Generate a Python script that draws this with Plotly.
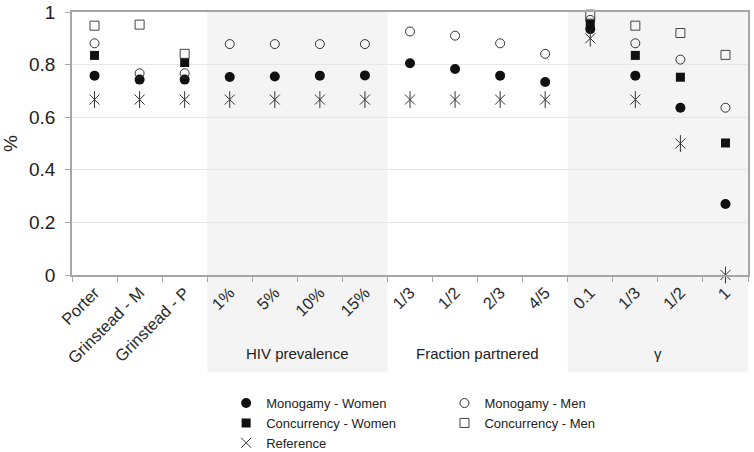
import plotly.graph_objects as go

categories = ["Porter", "Grinstead - M", "Grinstead - P",
              "1%", "5%", "10%", "15%",
              "1/3", "1/2", "2/3", "4/5",
              "0.1", "1/3", "1/2", "1"]
group_labels = ["HIV prevalence", "Fraction partnered", "\u03b3"]

monogamy_women = [0.758, 0.743, 0.743, 0.753, 0.755, 0.758, 0.759,
                  0.805, 0.783, 0.758, 0.734, 0.935, 0.758, 0.636, 0.27]
monogamy_men = [0.881, 0.767, 0.767, 0.878, 0.878, 0.878, 0.878,
                0.926, 0.910, 0.881, 0.841, 0.970, 0.881, 0.819, 0.636]
concurrency_women = [0.835, None, 0.808, None, None, None, None,
                     None, None, None, None, 0.955, 0.835, 0.752, 0.502]
concurrency_men = [0.948, 0.952, 0.841, None, None, None, None,
                   None, None, None, None, 0.990, 0.948, 0.920, 0.837]
reference = [0.667, 0.667, 0.667, 0.667, 0.667, 0.667, 0.667,
             0.667, 0.667, 0.667, 0.667, 0.900, 0.667, 0.500, 0.0]

x = list(range(len(categories)))
FONT = "Arial, Liberation Sans, sans-serif"

fig = go.Figure()
fig.add_trace(go.Scatter(x=x, y=monogamy_women, mode="markers", name="Monogamy - Women",
                         legend="legend",
                         marker=dict(symbol="circle", size=10, color="#111111"), cliponaxis=False))
fig.add_trace(go.Scatter(x=x, y=monogamy_men, mode="markers", name="Monogamy - Men",
                         legend="legend2",
                         marker=dict(symbol="circle-open", size=9, color="#333333", line=dict(width=1)),
                         cliponaxis=False))
fig.add_trace(go.Scatter(x=x, y=concurrency_women, mode="markers", name="Concurrency - Women",
                         legend="legend",
                         marker=dict(symbol="square", size=9, color="#111111"), cliponaxis=False))
fig.add_trace(go.Scatter(x=x, y=concurrency_men, mode="markers", name="Concurrency - Men",
                         legend="legend2",
                         marker=dict(symbol="square-open", size=9, color="#444444", line=dict(width=1)),
                         cliponaxis=False))
fig.add_trace(go.Scatter(x=x, y=reference, mode="markers", name="Reference", legendgroup="ref",
                         legend="legend",
                         marker=dict(symbol="x-thin-open", size=10, color="#333333", line=dict(width=1)),
                         cliponaxis=False))
fig.add_trace(go.Scatter(x=x, y=reference, mode="markers", name="Reference", legendgroup="ref",
                         legend="legend", showlegend=False,
                         marker=dict(symbol="line-ns-open", size=12, color="#333333", line=dict(width=1)),
                         cliponaxis=False))

# shaded groups
for x0, x1 in [(2.5, 6.5), (10.5, 14.5)]:
    fig.add_shape(type="rect", xref="x", yref="paper", x0=x0, x1=x1, y0=-0.37, y1=1,
                  fillcolor="#f4f4f4", line=dict(width=0), layer="below")

for gx, label in zip([4.5, 8.5, 12.5], group_labels):
    fig.add_annotation(x=gx, y=-0.297, xref="x", yref="paper", text=label, showarrow=False,
                       font=dict(family=FONT, size=15, color="#222222"), yanchor="middle")

legend_common = dict(orientation="v", yanchor="top", y=-0.43, xanchor="left",
                     font=dict(family=FONT, size=13, color="#222222"),
                     itemwidth=30, tracegroupgap=0, bgcolor="rgba(0,0,0,0)")

fig.update_layout(
    width=754, height=452,
    margin=dict(l=72, r=6, t=12, b=177, autoexpand=False),
    paper_bgcolor="white", plot_bgcolor="rgba(0,0,0,0)",
    font=dict(family=FONT, color="#222222"),
    showlegend=True,
    legend=dict(x=0.228, **legend_common),
    legend2=dict(x=0.551, **legend_common),
)
fig.update_xaxes(range=[-0.5, 14.5], tickmode="array", tickvals=x, ticktext=categories,
                 tickangle=-45, ticks="", showgrid=False, zeroline=False, automargin=False,
                 showline=True, linecolor="#a6a6a6", linewidth=1.5, mirror=True,
                 tickfont=dict(family=FONT, size=16.5, color="#2a2a2a"),
                 minor=dict(tickmode="array", tickvals=[i - 0.5 for i in range(16)], ticks="outside",
                            ticklen=5, tickcolor="#a6a6a6", showgrid=False))
fig.update_yaxes(range=[0, 1], dtick=0.2, tick0=0, ticks="outside", ticklen=5, tickcolor="#a6a6a6",
                 showgrid=True, gridcolor="#e6e6e6", zeroline=False, automargin=False,
                 showline=True, linecolor="#a6a6a6", linewidth=1.5, mirror=True,
                 ticklabelstandoff=6,
                 tickfont=dict(family=FONT, size=19, color="#222222"),
                 title=dict(text="%", font=dict(family=FONT, size=19, color="#222222"), standoff=6))

fig.write_html("out.html", config={"displayModeBar": False},
               post_script="document.body.style.margin='0';document.body.style.overflow='hidden';")
